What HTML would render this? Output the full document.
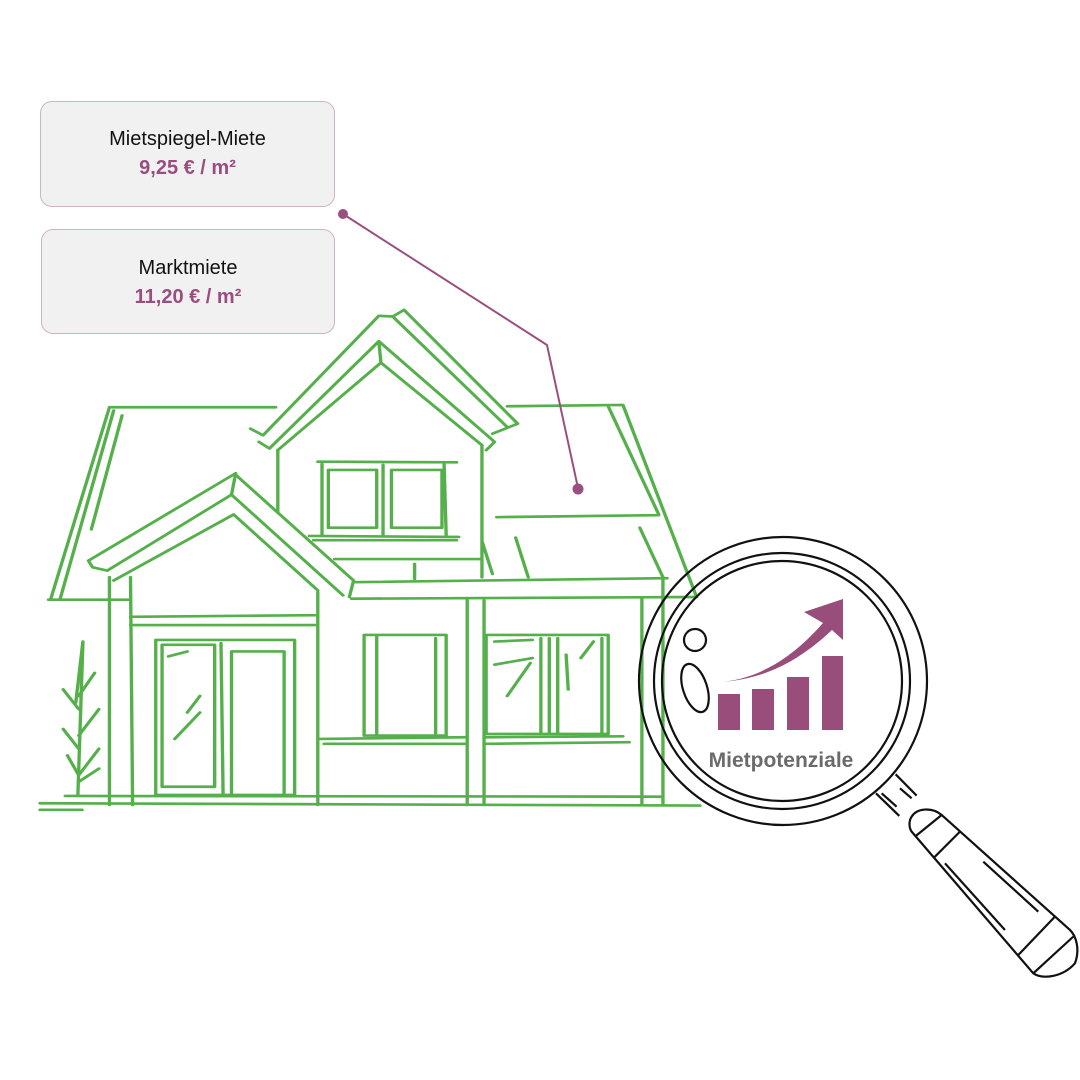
<!DOCTYPE html>
<html><head><meta charset="utf-8"><style>
html,body{margin:0;padding:0;background:#fff;}
body{width:1080px;height:1080px;position:relative;overflow:hidden;font-family:"Liberation Sans",sans-serif;}
.box{position:absolute;background:#f1f1f1;border:1px solid #cfb3c5;border-radius:12px;text-align:center;box-sizing:border-box;}
.t{color:#111;font-size:20px;}
.v{color:#9a4d7f;font-size:20px;font-weight:bold;margin-top:6px;}
svg{position:absolute;left:0;top:0;}
</style></head><body>
<svg width="1080" height="1080" viewBox="0 0 1080 1080">
<g transform="translate(40,300) scale(0.4209,0.330)" fill="none" stroke="#55b04b" stroke-width="8" stroke-linecap="round" stroke-linejoin="round">
<path d="M165,325 L25,908 M175,335 L48,905 M195,350 L122,695 M165,325 L560,325 M20,908 L165,908"/>
<path d="M500,390 L530,410 L805,48 M520,430 L545,450 L805,125 L1080,430 L1060,455 M565,455 L810,190 L1050,440 M838,50 L865,30 L1135,375 L1075,405 M838,50 L1110,385 M805,48 L838,50 M805,125 L810,190"/>
<path d="M565,455 L565,640 M1050,440 L1050,840 M1050,730 L1075,830"/>
<path d="M660,490 L990,492 M670,490 L670,710 M960,495 L965,712 M685,515 L800,515 L800,690 L685,690 Z M835,515 L955,515 L955,690 L835,690 Z M815,500 L815,715 M640,715 L995,718 M650,728 L990,728 M700,785 L1045,785 M890,800 L890,845"/>
<path d="M1110,322 L1385,318 L1560,900 M1350,322 L1470,650 M1085,658 L1470,652 M1130,720 L1160,840 M1425,690 L1480,840 M745,855 L1490,843"/>
<path d="M115,790 L465,525 M160,820 L455,590 M175,850 L460,650 M465,530 L745,850 L735,900 M455,590 L720,895 M460,650 L660,880 M115,790 L125,810 L160,820 M465,525 L455,590"/>
<path d="M165,840 L165,1530 M215,840 L220,1530 M740,905 L1560,900 M215,960 L655,955 M215,985 L655,985 M215,908 L165,908"/>
<path d="M660,885 L660,1530 M1015,910 L1015,1530 M1055,910 L1055,1530 M1430,905 L1430,1530 M1480,845 L1480,1530"/>
<path d="M275,1030 L605,1030 L605,1500 L275,1500 Z M290,1045 L415,1045 L415,1475 L290,1475 Z M455,1065 L580,1065 L580,1500 L455,1500 Z M430,1040 L435,1500 M305,1080 L350,1065 M320,1330 L380,1250 M350,1250 L380,1200"/>
<path d="M770,1015 L965,1015 L965,1320 L770,1320 Z M800,1020 L800,1315 M940,1025 L940,1315 M665,1330 L1010,1325 M675,1345 L1010,1345"/>
<path d="M1060,1015 L1350,1015 L1350,1315 L1060,1315 Z M1190,1025 L1190,1315 M1210,1025 L1210,1315 M1230,1025 L1230,1315 M1335,1025 L1335,1310 M1060,1325 L1385,1322 M1060,1345 L1400,1340 M1080,1035 L1170,1030 M1080,1105 L1170,1085 M1110,1200 L1165,1100 M1285,1085 L1315,1035 M1250,1075 L1255,1180"/>
<path d="M0,1525 L1568,1532 M0,1545 L100,1545 M60,1503 L1480,1505"/>
<path d="M102,1035 L90,1500 M102,1035 L85,1220 M55,1180 L92,1240 M130,1130 L92,1200 M55,1300 L92,1360 M140,1240 L92,1320 M65,1380 L92,1440 M140,1360 L92,1440 M140,1420 L92,1460"/>
</g>
<polyline points="343,214 547,345 578,488" fill="none" stroke="#99507f" stroke-width="2"/>
<circle cx="343" cy="214" r="5" fill="#99507f"/>
<circle cx="578" cy="489" r="5.5" fill="#99507f"/>
<g fill="none" stroke="#111" stroke-width="2.2">
<circle cx="783" cy="681" r="144"/>
<circle cx="782" cy="681" r="128"/>
<circle cx="782" cy="681" r="120"/>
<circle cx="695" cy="640" r="11"/>
<ellipse cx="695" cy="688" rx="12" ry="25" transform="rotate(-18 695 688)"/>
<g transform="translate(630,530) scale(0.3333)" stroke-width="6.6">
<path d="M738,790 L808,858 M797,733 L860,797 M755,790 L800,830 M810,775 L845,805"/>
<path d="M845,905 L1210,1330 C1240,1350 1300,1340 1335,1300 C1350,1260 1340,1220 1320,1200 L935,855 C905,830 860,835 845,860 C835,875 838,895 845,905 Z"/>
<path d="M855,920 L935,855 M910,985 L990,905 M1165,1275 L1275,1160 M1210,1330 L1330,1220 M945,1000 L1125,1200 M1060,995 L1225,1145"/>
</g>
</g>
<g fill="#984d7b">
<rect x="718" y="694" width="22" height="36"/>
<rect x="752" y="689" width="22" height="41"/>
<rect x="787" y="677" width="22" height="53"/>
<rect x="822" y="656" width="21" height="74"/>
<path d="M718,682 C760,680 795,655 823,623 L804,612 L843,599 L843,640 L832,630 C800,660 765,680 718,682 Z"/>
</g>
<text x="781" y="767" text-anchor="middle" font-family="Liberation Sans, sans-serif" font-weight="bold" font-size="21" fill="#6b6b6b">Mietpotenziale</text>
</svg>
<div class="box" style="left:40px;top:101px;width:295px;height:106px;padding-top:26px;">
<div class="t">Mietspiegel-Miete</div><div class="v">9,25 € / m²</div></div>
<div class="box" style="left:41px;top:229px;width:294px;height:105px;padding-top:27px;">
<div class="t">Marktmiete</div><div class="v">11,20 € / m²</div></div>
</body></html>
